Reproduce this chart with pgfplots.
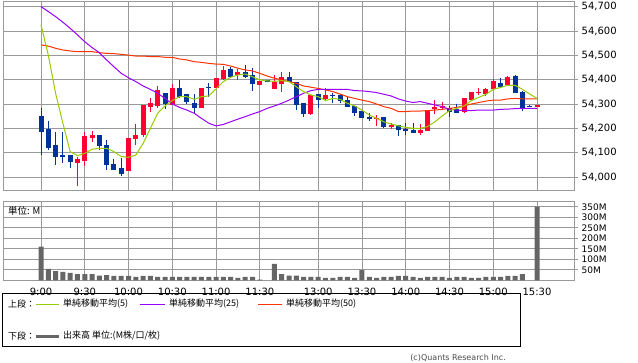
\documentclass[border=0pt]{standalone}
\usepackage{fontspec}
\setmainfont{DejaVu Sans}
\newfontfamily\cjk{Noto Sans CJK JP}
\usepackage{pgfplots}
\pgfplotsset{compat=1.18}
\usepackage{pgfplotstable}

\definecolor{upred}{HTML}{FF0033}
\definecolor{dnblue}{HTML}{003399}
\definecolor{maA}{HTML}{99CC00}
\definecolor{maB}{HTML}{9900FF}
\definecolor{maC}{HTML}{FF3300}
\definecolor{volgray}{HTML}{666666}
\definecolor{gridgray}{HTML}{999999}

\pgfplotstableread{
i o h l c
5 54058 54084 53963 54074
6 54066 54184 54047 54169
7 54160 54189 54145 54171
12 54026 54162 54026 54162
13 54158 54218 54132 54173
14 54173 54296 54166 54296
15 54288 54325 54267 54304
16 54293 54374 54285 54358
18 54297 54381 54295 54366
22 54282 54366 54282 54366
24 54367 54407 54364 54407
25 54401 54458 54399 54440
27 54419 54443 54399 54433
30 54378 54396 54378 54396
32 54360 54419 54360 54392
33 54382 54433 54351 54412
37 54259 54337 54255 54337
39 54321 54364 54316 54337
46 54237 54255 54210 54244
48 54204 54223 54196 54214
52 54182 54218 54173 54193
53 54190 54275 54190 54275
54 54278 54316 54259 54289
55 54282 54310 54275 54292
58 54269 54326 54264 54323
59 54316 54351 54314 54351
60 54344 54364 54337 54351
61 54341 54364 54333 54360
62 54360 54401 54358 54396
64 54378 54415 54374 54410
68 54289 54296 54289 54296
}\upT

\pgfplotstableread{
i o h l c
0 54251 54285 54090 54186
1 54197 54230 54111 54121
2 54132 54185 54051 54084
3 54090 54185 54059 54084
4 54090 54090 54038 54062
8 54173 54173 54111 54129
9 54132 54152 54029 54051
10 54053 54073 54030 54030
11 54036 54077 54006 54012
17 54344 54344 54280 54300
19 54366 54399 54323 54330
20 54340 54340 54300 54307
21 54304 54340 54264 54282
23 54369 54385 54330 54364
26 54444 54453 54406 54412
28 54433 54460 54406 54412
29 54419 54447 54355 54382
31 54397 54399 54389 54392
34 54410 54433 54392 54392
35 54392 54392 54275 54296
36 54306 54306 54248 54259
38 54340 54340 54285 54316
40 54336 54347 54303 54331
41 54337 54341 54306 54314
42 54316 54330 54289 54289
43 54292 54292 54252 54264
44 54271 54271 54243 54243
45 54248 54264 54232 54237
47 54245 54245 54200 54207
49 54214 54214 54169 54193
50 54196 54221 54173 54190
51 54193 54221 54180 54182
56 54285 54292 54245 54269
57 54278 54300 54264 54264
63 54388 54406 54364 54369
65 54415 54419 54347 54347
66 54351 54355 54273 54282
67 54293 54294 54289 54289
}\dnT

\pgfplotstableread{
i m5 m25 m50
0 54625 54700 54543
1 54501 54680 54538
2 54344 54659 54529
3 54221 54636 54522
4 54104 54611 54518
5 54088 54584 54515
6 54097 54556 54515
7 54114 54532 54515
8 54118 54511 54511
9 54118 54481 54508
10 54104 54453 54507
11 54084 54426 54504
12 54081 54408 54501
13 54090 54392 54497
14 54138 54374 54497
15 54200 54360 54495
16 54262 54344 54495
17 54292 54323 54492
18 54314 54300 54492
19 54330 54286 54485
20 54330 54275 54481
21 54319 54262 54474
22 54330 54241 54471
23 54333 54221 54467
24 54362 54210 54464
25 54392 54216 54463
26 54410 54227 54456
27 54419 54238 54447
28 54423 54248 54440
29 54412 54259 54436
30 54399 54269 54426
31 54395 54282 54415
32 54393 54292 54406
33 54396 54303 54399
34 54392 54316 54392
35 54371 54330 54385
36 54351 54344 54374
37 54337 54355 54369
38 54330 54360 54364
39 54314 54360 54358
40 54323 54360 54351
41 54319 54360 54341
42 54303 54360 54330
43 54292 54355 54323
44 54275 54354 54316
45 54255 54351 54310
46 54241 54347 54300
47 54227 54340 54289
48 54218 54333 54282
49 54210 54321 54269
50 54204 54312 54269
51 54200 54306 54271
52 54200 54310 54271
53 54207 54303 54273
54 54227 54296 54275
55 54251 54289 54278
56 54273 54278 54282
57 54282 54275 54286
58 54292 54273 54292
59 54314 54273 54300
60 54327 54275 54306
61 54340 54275 54312
62 54360 54275 54316
63 54368 54278 54316
64 54377 54279 54321
65 54377 54281 54323
66 54360 54282 54321
67 54341 54282 54321
68 54323 54282 54321
}\maT

\pgfplotstableread{
i v
0 160
1 54
2 44
3 40
4 35
5 30
6 30
7 30
8 22
9 25
10 21
11 21
12 21
13 16
14 21
15 21
16 16
17 16
18 16
19 16
20 16
21 16
22 16
23 16
24 16
25 16
26 16
27 11
28 16
29 16
30 3
32 78
33 30
34 22
35 22
36 16
37 16
38 16
39 11
40 11
41 16
42 16
43 11
44 48
45 16
46 11
47 16
48 16
49 21
50 21
51 16
52 11
53 16
54 16
55 16
56 11
57 16
58 16
59 11
60 11
61 16
62 16
63 16
64 21
65 21
66 30
68 351
}\volT

\pgfplotsset{
  chartbase/.style={
    scale only axis, width=571pt,
    xmin=-5.21, xmax=73.07,
    axis line style={gridgray, line width=0.9pt},
    grid=major,
    major grid style={gridgray, line width=0.9pt},
    xtick={0,6,12,18,24,30,38,44,50,56,62,68},
    xtick style={draw=none},
    ytick pos=right,
    yticklabel pos=right,
    ytick style={gridgray, line width=0.9pt},
    major tick length=4pt,
    tick align=outside,
    clip=true,
  },
  wick/.style={draw=none, mark=none,
    error bars/.cd, y dir=plus, y explicit, error mark=none,
    error bar style={draw=#1, line width=1pt}},
  body/.style={draw=none, mark=none,
    error bars/.cd, y dir=plus, y explicit, error mark=none,
    error bar style={draw=#1, line width=5pt}},
}

\begin{document}
\begin{tikzpicture}
\path[use as bounding box] (0pt,0pt) rectangle (638pt,-362pt);
\fill[white] (0pt,0pt) rectangle (638pt,-362pt);

% upper panel: price
\begin{axis}[chartbase,
  at={(3pt,-190pt)}, anchor=south west, height=189pt,
  ymin=53946.5, ymax=54723.3,
  ytick={54000,54100,54200,54300,54400,54500,54600,54700},
  yticklabels={{54,000},{54,100},{54,200},{54,300},{54,400},{54,500},{54,600},{54,700}},
  yticklabel style={font=\fontsize{10}{12}\selectfont, anchor=west, inner sep=0pt, xshift=3.5pt},
  xticklabels={},
]
\addplot[wick=upred] table[x=i, y=l, y error plus expr=\thisrow{h}-\thisrow{l}] {\upT};
\addplot[body=upred] table[x=i, y=o, y error plus expr=\thisrow{c}-\thisrow{o}] {\upT};
\addplot[wick=dnblue] table[x=i, y=l, y error plus expr=\thisrow{h}-\thisrow{l}] {\dnT};
\addplot[body=dnblue] table[x=i, y=c, y error plus expr=\thisrow{o}-\thisrow{c}] {\dnT};
\addplot[maC, line width=1pt, mark=none] table[x=i, y=m50] {\maT};
\addplot[maB, line width=1pt, mark=none] table[x=i, y=m25] {\maT};
\addplot[maA, line width=1pt, mark=none] table[x=i, y=m5] {\maT};
\end{axis}

% lower panel: volume
\begin{axis}[chartbase,
  at={(3pt,-280.3pt)}, anchor=south west, height=78.6pt,
  ymin=0, ymax=374.6,
  ytick={50,100,150,200,250,300,350},
  yticklabels={50M,100M,150M,200M,250M,300M,350M},
  yticklabel style={font=\fontsize{9}{9}\selectfont, anchor=west, inner sep=0pt, xshift=3.5pt},
  xticklabels={9:00,9:30,10:00,10:30,11:00,11:30,13:00,13:30,14:00,14:30,15:00,15:30},
  xticklabel style={font=\fontsize{10}{12}\selectfont},
]
\addplot[ybar, bar width=5pt, bar shift=0pt, fill=volgray, draw=none] table[x=i, y=v] {\volT};
\end{axis}

\node[anchor=west, inner sep=0pt, font=\cjk\fontsize{9.5}{10}\selectfont] at (8pt,-210.5pt) {単位: M};

% legend box
\draw[black, line width=1pt] (2.7pt,-293.3pt) rectangle (520.5pt,-346pt);
\begin{scope}[every node/.style={anchor=west, inner sep=0pt, font=\cjk\fontsize{9}{10}\selectfont}]
\node at (8pt,-304pt) {上段：};
\draw[maA, line width=1pt] (36pt,-304pt) -- (59pt,-304pt);
\node at (63pt,-304pt) {単純移動平均(5)};
\draw[maB, line width=1pt] (140pt,-304pt) -- (165pt,-304pt);
\node at (169pt,-304pt) {単純移動平均(25)};
\draw[maC, line width=1pt] (258pt,-304pt) -- (282pt,-304pt);
\node at (286pt,-304pt) {単純移動平均(50)};
\node at (8pt,-336pt) {下段：};
\draw[volgray, line width=3pt] (36pt,-336pt) -- (59pt,-336pt);
\node at (63pt,-336pt) {出来高 単位:(M株/口/枚)};
\end{scope}

\node[anchor=east, inner sep=0pt, text=black!70, font=\fontsize{8}{9}\selectfont] at (506pt,-357.5pt) {(c)Quants Research Inc.};
\end{tikzpicture}
\end{document}
